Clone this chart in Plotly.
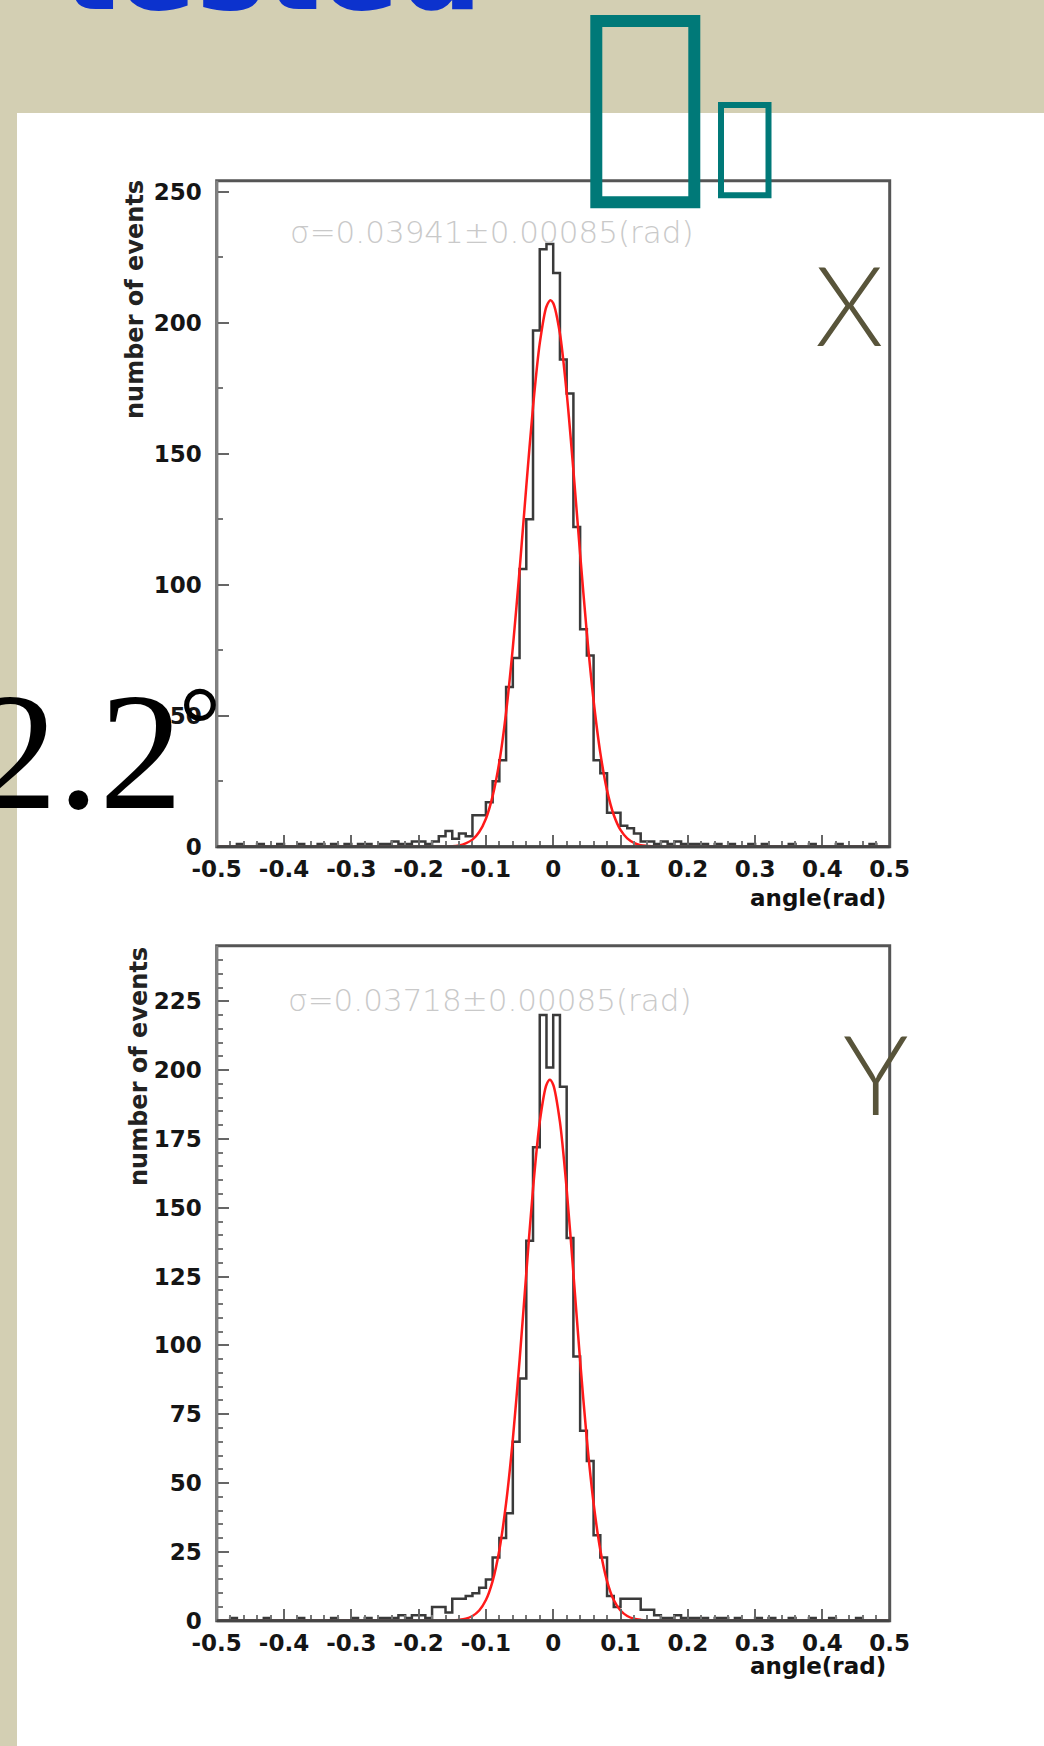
import plotly.graph_objects as go

W, H = 1044, 1746

# ---------------- data ----------------
bin_centers = [round(-0.495 + 0.01 * i, 3) for i in range(100)]

counts_x = [0, 0, 0, 1, 0, 0, 1, 0, 0, 1,
            0, 0, 1, 0, 0, 1, 0, 1, 0, 1,
            0, 1, 1, 0, 1, 1, 2, 1, 1, 2,
            2, 1, 2, 4, 6, 3, 5, 4, 12, 12,
            17, 25, 33, 61, 72, 106, 125, 197, 228, 230,
            219, 186, 173, 122, 83, 73, 33, 28, 13, 13,
            8, 7, 5, 2, 2, 1, 2, 1, 2, 1,
            1, 1, 1, 0, 1, 0, 1, 0, 0, 1,
            0, 1, 0, 0, 0, 1, 0, 0, 1, 0,
            0, 0, 1, 0, 0, 0, 0, 1, 0, 0]

counts_y = [0, 0, 1, 0, 0, 0, 0, 1, 0, 0,
            0, 0, 1, 0, 0, 0, 0, 1, 0, 0,
            1, 0, 1, 0, 1, 1, 1, 2, 1, 2,
            2, 1, 5, 5, 3, 8, 8, 9, 10, 12,
            15, 23, 30, 39, 65, 88, 138, 172, 220, 201,
            220, 194, 139, 96, 69, 58, 31, 23, 9, 5,
            8, 8, 8, 4, 4, 2, 1, 1, 2, 1,
            1, 1, 1, 0, 1, 1, 0, 1, 0, 0,
            1, 0, 1, 0, 0, 1, 0, 0, 1, 0,
            0, 1, 0, 0, 0, 1, 0, 0, 0, 0]

fit_x_angle = [-0.5, -0.2, -0.15, -0.14, -0.13, -0.12, -0.11, -0.10, -0.09, -0.08,
               -0.07, -0.06, -0.05, -0.04, -0.03, -0.02, -0.01, -0.004, 0.0, 0.01,
               0.02, 0.03, 0.04, 0.05, 0.06, 0.07, 0.08, 0.09, 0.10, 0.11,
               0.12, 0.13, 0.14, 0.15, 0.2, 0.5]
fit_x_value = [0, 0, 0.2, 0.5, 1.3, 2.7, 5.6, 10.7, 19.3, 32.4,
               51.3, 76.0, 105.5, 137.4, 167.8, 192.1, 206.2, 208.6, 207.5, 195.9,
               173.3, 143.7, 111.8, 81.5, 55.8, 35.8, 21.5, 12.1, 6.4, 3.2,
               1.5, 0.6, 0.3, 0.1, 0, 0]

fit_y_angle = [-0.5, -0.2, -0.15, -0.14, -0.13, -0.12, -0.11, -0.10, -0.09, -0.08,
               -0.07, -0.06, -0.05, -0.04, -0.03, -0.02, -0.01, -0.005, 0.0, 0.01,
               0.02, 0.03, 0.04, 0.05, 0.06, 0.07, 0.08, 0.09, 0.10, 0.11,
               0.12, 0.13, 0.14, 0.15, 0.2, 0.5]
fit_y_value = [0, 0, 0.1, 0.3, 0.7, 1.7, 3.7, 7.5, 14.4, 25.7,
               42.7, 65.9, 94.5, 126.2, 156.8, 181.2, 194.7, 196.5, 194.7, 181.2,
               156.8, 126.2, 94.5, 65.9, 42.7, 25.7, 14.4, 7.5, 3.7, 1.7,
               0.7, 0.3, 0.1, 0.05, 0, 0]

x_tickvals = [-0.5, -0.4, -0.3, -0.2, -0.1, 0, 0.1, 0.2, 0.3, 0.4, 0.5]
x_ticktext = ["-0.5", "-0.4", "-0.3", "-0.2", "-0.1", "0", "0.1", "0.2", "0.3", "0.4", "0.5"]
y1_tickvals = [0, 50, 100, 150, 200, 250]
y1_ticktext = ["0", "50", "100", "150", "200", "250"]
y2_tickvals = [0, 25, 50, 75, 100, 125, 150, 175, 200, 225]
y2_ticktext = ["0", "25", "50", "75", "100", "125", "150", "175", "200", "225"]

sigma_x_text = "σ=0.03941±0.00085(rad)"
sigma_y_text = "σ=0.03718±0.00085(rad)"

# ---------------- helpers ----------------
def px(x):
    return x / W

def py(y):
    return 1 - y / H

BEIGE = "rgb(211,207,179)"
TEAL = "rgb(0,121,120)"
OLIVE = "rgb(88,84,58)"
HIST = "#3a3a3a"
RED = "#ff1a1a"
TICKFONT = dict(family="DejaVu Sans", size=23, color="#151515", weight="bold")

fig = go.Figure()

fig.add_trace(go.Scatter(x=bin_centers, y=counts_x, mode="lines", line=dict(shape="hvh", color=HIST, width=2.5),
                         xaxis="x", yaxis="y", hoverinfo="skip"))
fig.add_trace(go.Scatter(x=fit_x_angle, y=fit_x_value, mode="lines", line=dict(shape="spline", smoothing=0.8, color=RED, width=2.5),
                         xaxis="x", yaxis="y", hoverinfo="skip"))
fig.add_trace(go.Scatter(x=bin_centers, y=counts_y, mode="lines", line=dict(shape="hvh", color=HIST, width=2.5),
                         xaxis="x2", yaxis="y2", hoverinfo="skip"))
fig.add_trace(go.Scatter(x=fit_y_angle, y=fit_y_value, mode="lines", line=dict(shape="spline", smoothing=0.8, color=RED, width=2.5),
                         xaxis="x2", yaxis="y2", hoverinfo="skip"))

X0, X1 = 216.7, 889.7
TOP1, BOT1 = 180.7, 846.7
TOP2, BOT2 = 945.7, 1620.7

def xaxis_cfg(anchor):
    return dict(domain=[px(X0), px(X1)], range=[-0.5, 0.5], anchor=anchor,
                showgrid=False, zeroline=False, showline=False,
                tickmode="array", tickvals=x_tickvals, ticktext=x_ticktext,
                ticks="inside", ticklen=12, tickwidth=2, tickcolor="#666",
                minor=dict(tickmode="linear", tick0=-0.5, dtick=0.02, ticks="inside", ticklen=6, tickwidth=2, tickcolor="#777"),
                tickfont=TICKFONT, ticklabelstandoff=6)

def yaxis_cfg(anchor, dom, rng, tv, tt, minor_dtick):
    return dict(domain=dom, range=rng, anchor=anchor,
                showgrid=False, zeroline=False, showline=False,
                tickmode="array", tickvals=tv, ticktext=tt,
                ticks="inside", ticklen=12, tickwidth=2, tickcolor="#666",
                minor=dict(tickmode="linear", tick0=0, dtick=minor_dtick, ticks="inside", ticklen=6, tickwidth=2, tickcolor="#777"),
                tickfont=TICKFONT, ticklabelstandoff=14)

fig.update_layout(
    width=W, height=H, margin=dict(l=0, r=0, t=0, b=0, pad=0, autoexpand=False),
    paper_bgcolor=BEIGE, plot_bgcolor="white", showlegend=False,
    xaxis=xaxis_cfg("y"),
    yaxis=yaxis_cfg("x", [py(BOT1), py(TOP1)], [0, 254.2], y1_tickvals, y1_ticktext, 25),
    xaxis2=xaxis_cfg("y2"),
    yaxis2=yaxis_cfg("x2", [py(BOT2), py(TOP2)], [0, 245.2], y2_tickvals, y2_ticktext, 5),
)

shapes = []
# white slide panel
shapes.append(dict(type="rect", xref="paper", yref="paper", x0=px(17), x1=1.0, y0=0.0, y1=py(113),
                   fillcolor="white", line=dict(width=0), layer="below"))
# frames
for xr, yr in (("x domain", "y domain"), ("x2 domain", "y2 domain")):
    shapes.append(dict(type="rect", xref=xr, yref=yr, x0=0, x1=1, y0=0, y1=1,
                       line=dict(color="#555", width=3), layer="above"))
    shapes.append(dict(type="line", xref=xr, yref=yr, x0=0, x1=0, y0=0, y1=1,
                       line=dict(color="#808080", width=3), layer="above"))
    shapes.append(dict(type="line", xref=xr, yref=yr, x0=0, x1=1, y0=0, y1=0,
                       line=dict(color="#444", width=3), layer="above"))
# teal placeholder glyph boxes
shapes.append(dict(type="rect", xref="paper", yref="paper", x0=px(596.3), x1=px(694.3), y0=py(202.3), y1=py(21),
                   line=dict(color=TEAL, width=12), layer="above"))
shapes.append(dict(type="rect", xref="paper", yref="paper", x0=px(721), x1=px(768.5), y0=py(195.3), y1=py(105),
                   line=dict(color=TEAL, width=6), layer="above"))
fig.update_layout(shapes=shapes)

ann = []
def add_text(text, x, y, size, color, family, xanchor="center", yanchor="middle", weight="normal", angle=0):
    ann.append(dict(text=text, x=px(x), y=py(y), xref="paper", yref="paper", showarrow=False,
                    xanchor=xanchor, yanchor=yanchor, textangle=angle,
                    font=dict(size=size, color=color, family=family, weight=weight)))

# slide texts
add_text("tested", 60, -32, 116, "rgb(12,50,205)", "DejaVu Sans", xanchor="left", weight="bold")
add_text("2.2", -28, 751.5, 167, "black", "Liberation Serif", xanchor="left")
add_text("°", 200, 723, 105, "black", "Liberation Serif")
add_text("X", 849.5, 302.5, 110, OLIVE, "Lato", weight=300)
add_text("Y", 875, 1072, 110, OLIVE, "Lato", weight=300)

# chart texts
add_text(sigma_x_text, 492, 232, 31, "#c9c9c9", "DejaVu Sans", weight=200)
add_text(sigma_y_text, 490, 1000, 31, "#c9c9c9", "DejaVu Sans", weight=200)
add_text("number of events", 135, 300, 24, "#222", "DejaVu Sans", weight="bold", angle=-90)
add_text("number of events", 139, 1067, 24, "#222", "DejaVu Sans", weight="bold", angle=-90)
add_text("angle(rad)", 888, 898, 23, "#111", "DejaVu Sans", xanchor="right", weight="bold")
add_text("angle(rad)", 888, 1666, 23, "#111", "DejaVu Sans", xanchor="right", weight="bold")
fig.update_layout(annotations=ann)

fig.write_html("out.html", config={"displayModeBar": False},
               post_script="document.body.style.margin='0';document.body.style.overflow='hidden';")
